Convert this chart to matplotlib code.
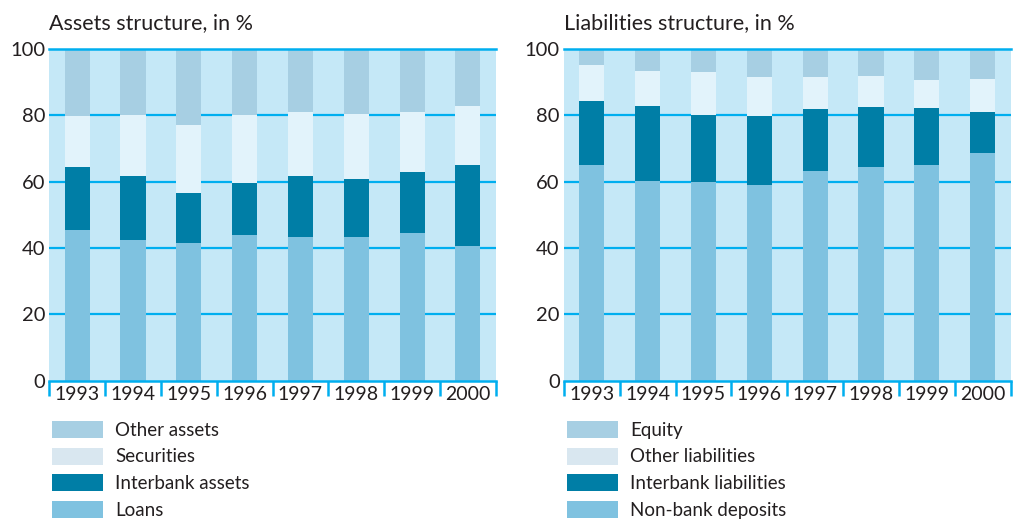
import matplotlib
matplotlib.use("Agg")
import matplotlib.pyplot as plt
from matplotlib.patches import Rectangle
import numpy as np

plt.rcParams['font.family'] = ['Lato', 'DejaVu Sans']

years = ["1993", "1994", "1995", "1996", "1997", "1998", "1999", "2000"]

# assets, shares in %
loans = [45.4, 42.4, 41.5, 43.9, 43.3, 43.2, 44.5, 40.6]
interbank_assets = [19.0, 19.3, 15.1, 15.7, 18.4, 17.6, 18.4, 24.4]
securities = [15.4, 18.4, 20.5, 20.5, 19.3, 19.6, 18.1, 17.8]
other_assets = [20.2, 19.9, 22.9, 19.9, 19.0, 19.6, 19.0, 17.2]

# liabilities
deposits = [65.0, 60.3, 60.0, 59.0, 63.2, 64.4, 65.0, 68.8]
interbank_liab = [19.3, 22.5, 20.1, 20.8, 18.7, 18.1, 17.2, 12.2]
other_liab = [10.9, 10.6, 13.0, 11.8, 9.7, 9.4, 8.5, 10.0]
equity = [4.8, 6.6, 6.9, 8.4, 8.4, 8.1, 9.3, 9.0]

assets_names = ["Loans", "Interbank assets", "Securities", "Other assets"]
liab_names = ["Non-bank deposits", "Interbank liabilities", "Other liabilities", "Equity"]

bar_colors = ["#7fc2e0", "#007ea6", "#e2f3fb", "#a7cfe3"]
legend_colors = ["#7fc2e0", "#007ea6", "#d9e7f0", "#a7cfe3"]
bg = "#c5e8f7"
line_blue = "#00aeef"
text_col = "#231f20"

fig = plt.figure(figsize=(10.16, 5.19), dpi=100)


def draw_panel(rect, series, names, title):
    ax = fig.add_axes(rect)
    ax.set_facecolor(bg)
    x = np.arange(len(years))
    bottom = np.zeros(len(years))
    for vals, col in zip(series, bar_colors):
        ax.bar(x, vals, bottom=bottom, width=0.45, color=col, zorder=2)
        bottom += np.array(vals)

    ax.set_xlim(-0.5, len(years) - 0.5)
    ax.set_ylim(0, 100)
    ax.set_yticks([0, 20, 40, 60, 80, 100])
    for g in [20, 40, 60, 80]:
        ax.axhline(g, color=line_blue, lw=1.6, zorder=1)

    for s in ["left", "right"]:
        ax.spines[s].set_visible(False)
    for s in ["top", "bottom"]:
        ax.spines[s].set_color(line_blue)
        ax.spines[s].set_linewidth(1.8)
        ax.spines[s].set_zorder(3)

    ax.set_xticks(x)
    ax.set_xticklabels(years)
    ax.set_xticks(np.arange(len(years) + 1) - 0.5, minor=True)
    ax.tick_params(axis="x", which="major", length=0, pad=4,
                   labelsize=14, labelcolor=text_col)
    ax.tick_params(axis="x", which="minor", length=11, width=1.8,
                   color=line_blue, direction="out")
    ax.tick_params(axis="y", length=0, pad=3, labelsize=14.5, labelcolor=text_col)

    pos = ax.get_position()
    fig.text(pos.x0, 0.955, title, fontsize=15.5, color=text_col,
             ha="left", va="center")

    # legend, top entry is the top of the stack
    for i, (name, col) in enumerate(zip(names[::-1], legend_colors[::-1])):
        y0 = 0.156 - i * 0.0515
        fig.add_artist(Rectangle((pos.x0 + 0.003, y0), 0.05, 0.033,
                                 transform=fig.transFigure, color=col, lw=0))
        fig.text(pos.x0 + 0.065, y0 + 0.015, name, fontsize=13.5,
                 color=text_col, ha="left", va="center")
    return ax


draw_panel([0.0485, 0.2665, 0.4395, 0.639],
           [loans, interbank_assets, securities, other_assets],
           assets_names, "Assets structure, in %")
draw_panel([0.555, 0.2665, 0.4397, 0.639],
           [deposits, interbank_liab, other_liab, equity],
           liab_names, "Liabilities structure, in %")

fig.savefig("out.png", dpi=100)
